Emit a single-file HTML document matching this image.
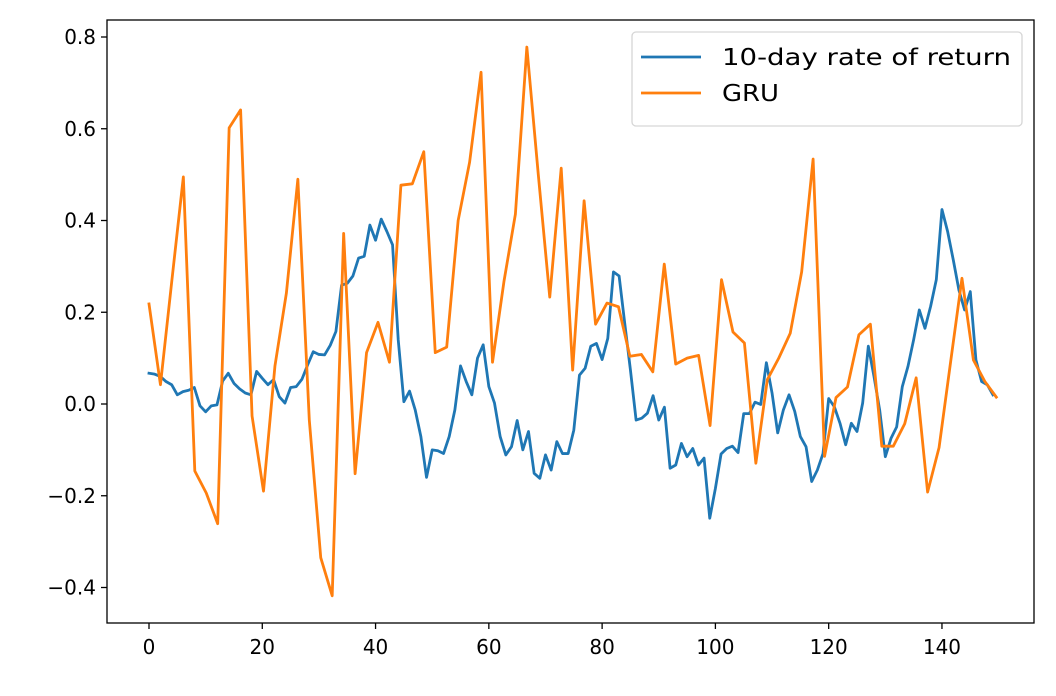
<!DOCTYPE html>
<html><head><meta charset="utf-8"><style>
body{margin:0;background:#fff;}
svg text{font-family:"DejaVu Sans","Liberation Sans",sans-serif;fill:#000;}
</style></head><body>
<svg id="chart" width="1056" height="691" viewBox="0 0 1056 691" xmlns="http://www.w3.org/2000/svg">
<rect x="0" y="0" width="1056" height="691" fill="#fff"/>
<g id="plot"></g>
</svg>
<script>
const rateValues=[0.067,0.065,0.060,0.049,0.042,0.020,0.027,0.030,0.036,-0.004,-0.017,-0.004,-0.002,0.050,0.067,0.045,0.033,0.024,0.020,0.071,0.056,0.042,0.053,0.016,0.002,0.036,0.038,0.054,0.085,0.114,0.108,0.107,0.128,0.158,0.259,0.263,0.279,0.318,0.322,0.390,0.357,0.403,0.376,0.347,0.140,0.005,0.028,-0.013,-0.071,-0.160,-0.100,-0.102,-0.108,-0.071,-0.013,0.083,0.049,0.020,0.100,0.129,0.038,0.002,-0.071,-0.111,-0.093,-0.036,-0.100,-0.060,-0.151,-0.162,-0.111,-0.144,-0.082,-0.108,-0.108,-0.057,0.063,0.078,0.126,0.132,0.097,0.143,0.288,0.279,0.175,0.074,-0.035,-0.031,-0.020,0.018,-0.035,-0.007,-0.140,-0.133,-0.086,-0.115,-0.097,-0.133,-0.118,-0.249,-0.184,-0.109,-0.097,-0.092,-0.106,-0.021,-0.021,0.004,-0.001,0.090,0.024,-0.063,-0.013,0.020,-0.016,-0.071,-0.093,-0.169,-0.144,-0.108,0.012,-0.006,-0.042,-0.089,-0.042,-0.060,0.002,0.126,0.060,-0.013,-0.115,-0.075,-0.050,0.038,0.082,0.140,0.205,0.165,0.213,0.271,0.424,0.376,0.314,0.248,0.205,0.245,0.096,0.049,0.042,0.020];
const gruValues=[0.218,0.042,0.27,0.495,-0.146,-0.194,-0.261,0.602,0.641,-0.026,-0.19,0.083,0.242,0.49,-0.035,-0.335,-0.418,0.372,-0.152,0.112,0.178,0.091,0.477,0.48,0.55,0.112,0.124,0.40,0.527,0.723,0.091,0.267,0.414,0.778,0.5,0.233,0.514,0.074,0.443,0.174,0.22,0.212,0.104,0.108,0.07,0.305,0.087,0.10,0.106,-0.047,0.271,0.157,0.133,-0.129,0.053,0.10,0.154,0.288,0.534,-0.114,0.014,0.037,0.151,0.174,-0.092,-0.092,-0.043,0.057,-0.192,-0.095,0.09,0.274,0.096,0.049,0.015];
const gruStep=150/74.2;
const xTicks=[0,20,40,60,80,100,120,140];
const yTicks=[-0.4,-0.2,0.0,0.2,0.4,0.6,0.8];
const yTickLabels=["\u22120.4","\u22120.2","0.0","0.2","0.4","0.6","0.8"];
const seriesNames=["10-day rate of return","GRU"];
const legendWidths=[289,57];

const NS="http://www.w3.org/2000/svg";
const L=107,R=1034,T=20,B=623;
function xs(v){return 149+v*5.664;}
function ys(v){return 404-v*458.75;}
const g=document.getElementById('plot');
function mk(tag,attrs,parent){const e=document.createElementNS(NS,tag);for(const k in attrs)e.setAttribute(k,attrs[k]);(parent||g).appendChild(e);return e;}

function line(vals,xf,color,name){
  const d=vals.map((v,i)=>(i?'L':'M')+xf(i).toFixed(2)+','+ys(v).toFixed(2)).join('');
  const p=mk('path',{d:d,fill:'none',stroke:color,'stroke-width':2.8,'stroke-linejoin':'round','stroke-linecap':'square'});
  
  
}
line(rateValues,i=>xs(i),'#1f77b4','rate-of-return-line');
line(gruValues,i=>xs(i*gruStep),'#ff7f0e','gru-line');

const frame=mk('rect',{x:L,y:T,width:R-L,height:B-T,fill:'none',stroke:'#000','stroke-width':1.3});



xTicks.forEach(t=>{
  const x=xs(t);
  const tk=mk('line',{x1:x,x2:x,y1:B,y2:B+6,stroke:'#000','stroke-width':1.3});
  
  
  const tx=mk('text',{x:x,y:B+31,'text-anchor':'middle','font-size':20});
  tx.textContent=String(t);
  
  
});
yTicks.forEach((t,i)=>{
  const y=ys(t);
  const tk=mk('line',{x1:L-6,x2:L,y1:y,y2:y,stroke:'#000','stroke-width':1.3});
  
  
  const tx=mk('text',{x:L-11,y:y+7,'text-anchor':'end','font-size':20});
  tx.textContent=yTickLabels[i];
  
  
});

const lg=mk('g',{});


mk('rect',{x:632,y:32,width:390,height:94,rx:4,fill:'#fff','fill-opacity':0.8,stroke:'#d6d6d6','stroke-width':1.3},lg);
const colors=['#1f77b4','#ff7f0e'];
seriesNames.forEach((n,i)=>{
  const y=57+i*36;
  const ln=mk('line',{x1:641,x2:701,y1:y,y2:y,stroke:colors[i],'stroke-width':2.8},lg);
  
  
  const tx=mk('text',{x:722,y:y+8,'font-size':23,textLength:legendWidths[i],lengthAdjust:'spacingAndGlyphs'},lg);
  tx.textContent=n;
  
  
});
</script>
</body></html>
